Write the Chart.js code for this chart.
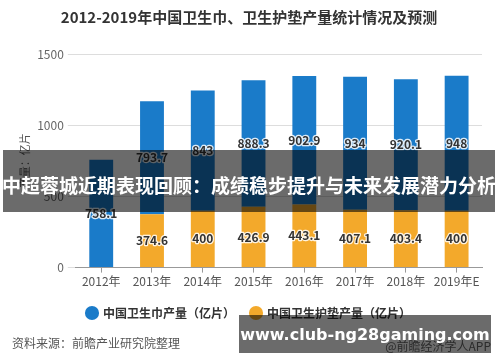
<!DOCTYPE html>
<html>
<head>
<meta charset="utf-8">
<script src="https://cdn.jsdelivr.net/npm/chart.js@4.4.1/dist/chart.umd.min.js"></script>
<style>
  html, body { margin: 0; padding: 0; background: #fff; }
  #wrap { position: relative; width: 500px; height: 362px; overflow: hidden; }
  .cn { font-family: "Noto Sans CJK SC", "Noto Sans", sans-serif; }
  #source { position: absolute; left: 12px; top: 334px; font-size: 12px; color: #555; }
  #app { position: absolute; right: 9px; top: 337px; font-size: 12px; color: #666; }
  .banner { position: absolute; background: rgba(0, 0, 0, 0.58); color: #fff; font-weight: bold;
            display: flex; align-items: center; justify-content: center; white-space: nowrap; }
  #banner1 { left: 3px; top: 150px; width: 492px; height: 62px; font-size: 19px; padding-top: 6px; box-sizing: border-box; }
  #banner2 { left: 239px; top: 315px; width: 252px; height: 38px; font-size: 16px; font-family: "DejaVu Sans", sans-serif; }
</style>
</head>
<body>
<div id="wrap">
  <canvas id="myChart" width="500" height="362"></canvas>
  <div id="source" class="cn">资料来源：前瞻产业研究院整理</div>
  <div id="app" class="cn">@前瞻经济学人APP</div>
  <div id="banner1" class="banner cn">中超蓉城近期表现回顾：成绩稳步提升与未来发展潜力分析</div>
  <div id="banner2" class="banner">www.club-ng28gaming.com</div>
</div>
<script>
const years = ['2012年', '2013年', '2014年', '2015年', '2016年', '2017年', '2018年', '2019年E'];
const napkinOutput = [758.1, 793.7, 843, 888.3, 902.9, 934, 920.1, 948];
const linerOutput = [null, 374.6, 400, 426.9, 443.1, 407.1, 403.4, 400];
const yTicks = [0, 500, 1000, 1500];

const fontFamily = '"Noto Sans CJK SC", "Noto Sans", sans-serif';

// draws the value in the middle of each bar segment
const segmentLabels = {
  id: 'segmentLabels',
  afterDatasetsDraw(chart) {
    const ctx = chart.ctx;
    ctx.save();
    ctx.font = 'bold 12px ' + fontFamily;
    ctx.textAlign = 'center';
    ctx.textBaseline = 'middle';
    ctx.lineJoin = 'round';
    chart.data.datasets.forEach((ds, di) => {
      const meta = chart.getDatasetMeta(di);
      meta.data.forEach((bar, i) => {
        const v = ds.data[i];
        if (v == null) return;
        const y = (bar.y + bar.base) / 2;
        ctx.lineWidth = 2.5;
        ctx.strokeStyle = 'rgba(255,255,255,0.85)';
        ctx.strokeText(String(v), bar.x, y);
        ctx.fillStyle = '#333';
        ctx.fillText(String(v), bar.x, y);
      });
    });
    ctx.restore();
  }
};

const ctx = document.getElementById('myChart').getContext('2d');
new Chart(ctx, {
  type: 'bar',
  data: {
    labels: years,
    datasets: [
      {
        label: '中国卫生护垫产量（亿片）',
        data: linerOutput,
        backgroundColor: '#f3a92b',
        barPercentage: 0.47,
        categoryPercentage: 1
      },
      {
        label: '中国卫生巾产量（亿片）',
        data: napkinOutput,
        backgroundColor: '#1a7bc9',
        barPercentage: 0.47,
        categoryPercentage: 1
      }
    ]
  },
  options: {
    responsive: false,
    animation: false,
    layout: { padding: { left: 16, right: 18, top: 0, bottom: 33 } },
    plugins: {
      title: {
        display: true,
        text: '2012-2019年中国卫生巾、卫生护垫产量统计情况及预测',
        color: '#333',
        font: { family: fontFamily, size: 15, weight: 'bold' },
        padding: { top: 8, bottom: 28 }
      },
      legend: {
        position: 'bottom',
        reverse: true,
        labels: {
          usePointStyle: true,
          pointStyle: 'circle',
          boxWidth: 10,
          boxHeight: 10,
          padding: 16,
          color: '#333',
          font: { family: fontFamily, size: 12, weight: 'bold' }
        }
      },
      tooltip: { enabled: false }
    },
    scales: {
      x: {
        stacked: true,
        grid: { offset: false, drawOnChartArea: false, color: '#999', tickLength: 5 },
        border: { color: '#999' },
        ticks: { color: '#555', font: { family: fontFamily, size: 12 }, padding: 2, maxRotation: 0 }
      },
      y: {
        stacked: true,
        min: 0,
        max: 1500,
        afterBuildTicks(axis) { axis.ticks = yTicks.map(v => ({ value: v })); },
        grid: { color: '#ddd', tickLength: 8 },
        border: { display: false },
        ticks: { color: '#666', font: { family: fontFamily, size: 12 }, padding: 4, callback: v => String(v) },
        title: {
          display: true,
          text: '产量：亿片',
          color: '#555',
          font: { family: fontFamily, size: 11 },
          padding: 2
        }
      }
    }
  },
  plugins: [segmentLabels]
});
</script>
</body>
</html>
